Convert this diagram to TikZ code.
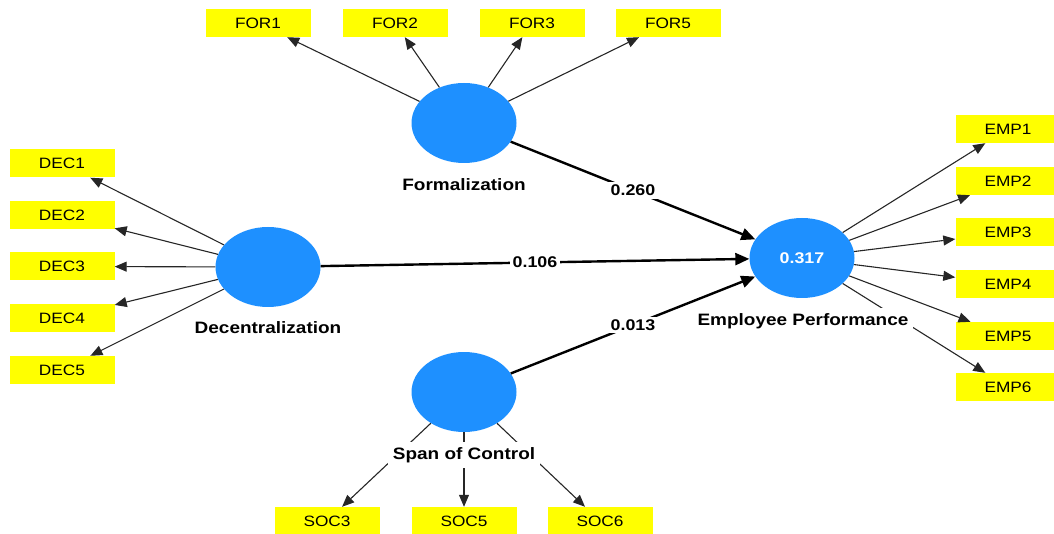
\documentclass[tikz,border=0pt]{standalone}
\usepackage{fontspec}
\setmainfont{Liberation Sans}
\usetikzlibrary{shapes.geometric,arrows.meta}
\definecolor{lvblue}{RGB}{30,144,255}
\definecolor{indyellow}{RGB}{255,255,0}
\newcommand{\hs}[1]{\scalebox{1.15}[1]{#1}}
\begin{document}
\begin{tikzpicture}[x=1pt,y=-1pt,
 ind/.style={fill=indyellow, minimum width=105pt, minimum height=28pt, inner sep=0pt, font=\fontsize{15}{18}\selectfont},
 lv/.style={ellipse, fill=lvblue, minimum width=105pt, minimum height=80pt, inner sep=0pt},
 lvlabel/.style={fill=white, inner sep=5pt, font=\bfseries\fontsize{16.5}{19}\selectfont},
 coef/.style={fill=white, inner sep=3pt, font=\bfseries\fontsize{15.5}{18}\selectfont},
 load/.style={draw=black!85, line width=1.1pt, -{Triangle[length=12pt,width=10pt]}},
 pth/.style={draw=black, line width=2.4pt, -{Triangle[length=14pt,width=12pt]}}
]
\useasboundingbox (0,0) rectangle (1054,534);
\clip (0,0) rectangle (1054,534);

% indicator boxes
\node[ind] (FOR1) at (258,23) {\hs{FOR1}};
\node[ind] (FOR2) at (395,23) {\hs{FOR2}};
\node[ind] (FOR3) at (532,23) {\hs{FOR3}};
\node[ind] (FOR5) at (668,23) {\hs{FOR5}};

\node[ind] (DEC1) at (62,163.5) {\hs{DEC1}};
\node[ind] (DEC2) at (62,215) {\hs{DEC2}};
\node[ind] (DEC3) at (62,266.5) {\hs{DEC3}};
\node[ind] (DEC4) at (62,318) {\hs{DEC4}};
\node[ind] (DEC5) at (62,370) {\hs{DEC5}};

\node[ind] (EMP1) at (1008,129) {\hs{EMP1}};
\node[ind] (EMP2) at (1008,181) {\hs{EMP2}};
\node[ind] (EMP3) at (1008,232.5) {\hs{EMP3}};
\node[ind] (EMP4) at (1008,284) {\hs{EMP4}};
\node[ind] (EMP5) at (1008,336) {\hs{EMP5}};
\node[ind] (EMP6) at (1008,387) {\hs{EMP6}};

\node[ind] (SOC3) at (327,521) {\hs{SOC3}};
\node[ind] (SOC5) at (464,521) {\hs{SOC5}};
\node[ind] (SOC6) at (600,521) {\hs{SOC6}};

% latent variables
\node[lv] (For) at (464,123) {};
\node[lv] (Dec) at (268,267) {};
\node[lv] (Soc) at (464,392) {};
\node[lv, text=white, font=\bfseries\fontsize{15.5}{18}\selectfont] (Emp) at (802,258) {\hs{0.317}};

% loadings
\foreach \t in {FOR1,FOR2,FOR3,FOR5} \draw[load] (For) -- (\t);
\foreach \t in {DEC1,DEC2,DEC3,DEC4,DEC5} \draw[load] (Dec) -- (\t);
\foreach \t in {EMP1,EMP2,EMP3,EMP4,EMP5,EMP6} \draw[load] (Emp) -- (\t);
\foreach \t in {SOC3,SOC5,SOC6} \draw[load] (Soc) -- (\t);

% structural paths
\draw[pth] (For) -- node[coef]{\hs{0.260}} (Emp);
\draw[pth] (Dec) -- node[coef]{\hs{0.106}} (Emp);
\draw[pth] (Soc) -- node[coef]{\hs{0.013}} (Emp);

% construct labels
\node[lvlabel] (ForL) at (464,185) {\hs{Formalization}};
\node[lvlabel] (DecL) at (268,328) {\hs{Decentralization}};
\node[lvlabel] (EmpL) at (803,321) {\hs{Employee Performance}};
\node[lvlabel] (SocL) at (464,455) {\hs{Span of Control}};
\end{tikzpicture}
\end{document}
